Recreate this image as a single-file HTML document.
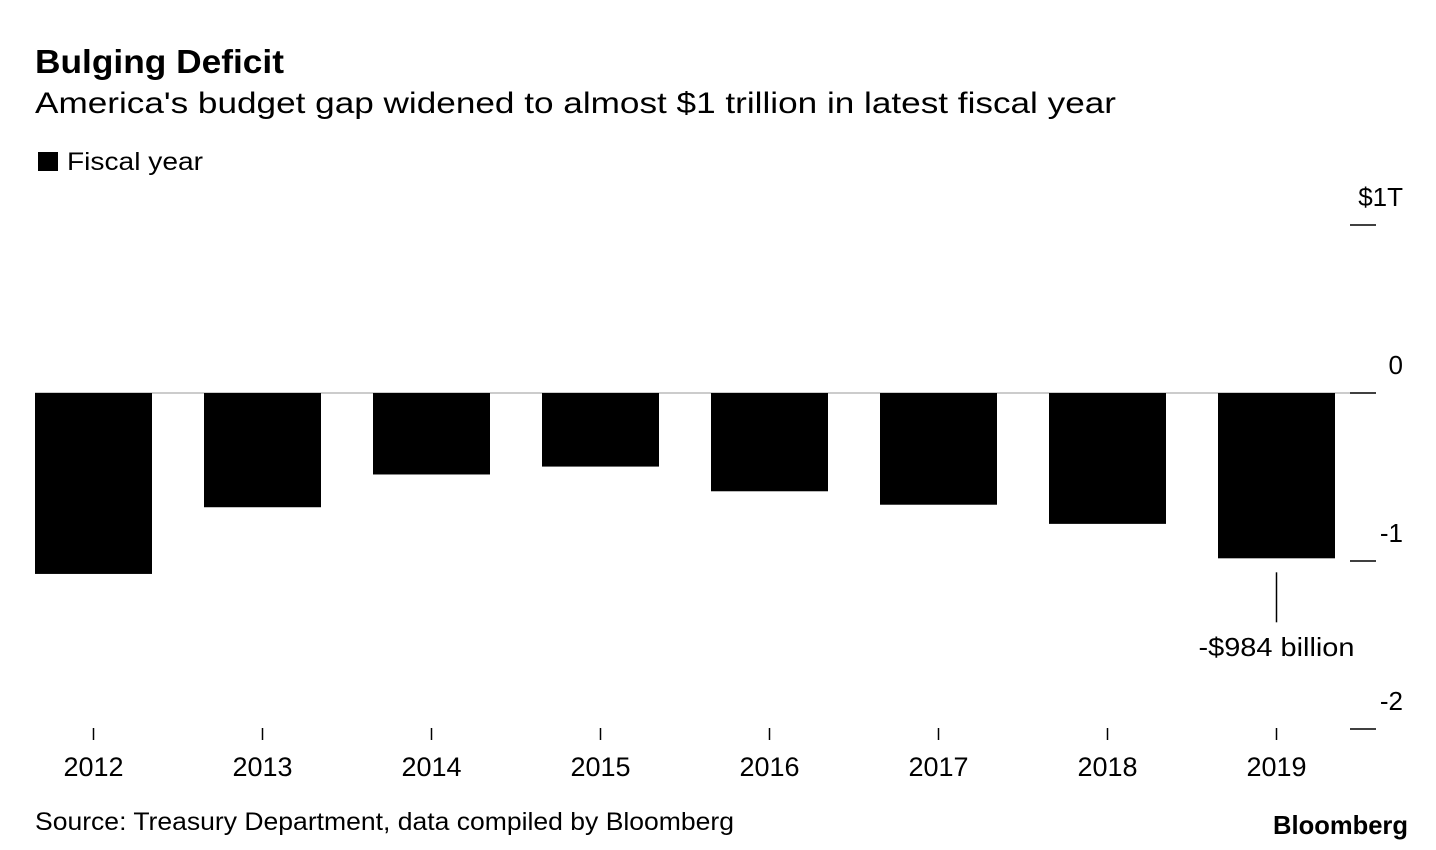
<!DOCTYPE html>
<html><head><meta charset="utf-8"><style>
body{margin:0;width:1436px;height:850px;background:#fff;font-family:"Liberation Sans",sans-serif;overflow:hidden}
</style></head><body>
<svg width="1436" height="850" style="position:absolute;left:0;top:0">
<text x="35" y="73" font-size="33" font-weight="bold" textLength="249" lengthAdjust="spacingAndGlyphs">Bulging Deficit</text>
<text x="35" y="113" font-size="30" textLength="1081" lengthAdjust="spacingAndGlyphs">America's budget gap widened to almost $1 trillion in latest fiscal year</text>
<rect x="38" y="152" width="20" height="19" fill="#000"/>
<text x="67" y="170" font-size="25" textLength="136" lengthAdjust="spacingAndGlyphs">Fiscal year</text>
<g id="plot"></g>
<text x="35" y="830" font-size="25" textLength="699" lengthAdjust="spacingAndGlyphs">Source: Treasury Department, data compiled by Bloomberg</text>
<text x="1273" y="834" font-size="26" font-weight="bold" textLength="135" lengthAdjust="spacingAndGlyphs">Bloomberg</text>
</svg>
<script>
const years=["2012","2013","2014","2015","2016","2017","2018","2019"];
const deficits=[-1.077,-0.680,-0.485,-0.438,-0.585,-0.665,-0.779,-0.984];
const yTicks=[1,0,-1,-2];
const yTickLabels=["$1T","0","-1","-2"];
const NS="http://www.w3.org/2000/svg";
const g=document.getElementById('plot');
const y=v=>393-168*v;
const x=i=>35+169*i;
const bw=117;
function mk(t,a){const e=document.createElementNS(NS,t);for(const k in a)e.setAttribute(k,a[k]);g.appendChild(e);return e;}
yTicks.forEach((t,i)=>{
 const l=mk('line',{x1:1350,x2:1376,y1:y(t),y2:y(t),stroke:'#000','stroke-width':1.5});
 
 
 const tx=mk('text',{x:1403,y:y(t)-19,'font-size':26,'text-anchor':'end'});
 tx.textContent=yTickLabels[i];
 
 
});
const zl=mk('line',{x1:35,x2:1350,y1:y(0),y2:y(0),stroke:'#bbb','stroke-width':1.5});


years.forEach((yr,i)=>{
 const v=deficits[i];
 const r=mk('rect',{x:x(i),y:Math.min(y(0),y(v)),width:bw,height:Math.abs(y(v)-y(0)),fill:'#000'});
 
 
 const cx=x(i)+bw/2;
 const tk=mk('line',{x1:cx,x2:cx,y1:728,y2:740,stroke:'#000','stroke-width':1.5});
 
 
 const t=mk('text',{x:cx,y:776,'font-size':27,'text-anchor':'middle'});
 t.textContent=yr;
 
 
});
const li=years.length-1, acx=x(li)+bw/2;
const al=mk('line',{x1:acx,x2:acx,y1:y(deficits[li])+14,y2:y(deficits[li])+64,stroke:'#000','stroke-width':1.5});


const at=mk('text',{x:acx,y:656,'font-size':26,'text-anchor':'middle',textLength:156,lengthAdjust:'spacingAndGlyphs'});
at.textContent='-$'+Math.round(-deficits[li]*1000)+' billion';


</script>
</body></html>
